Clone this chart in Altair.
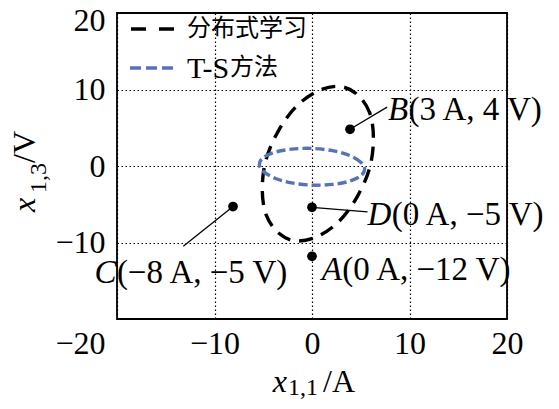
import altair as alt
import pandas as pd

# ---- data ----
# distributed-learning ellipse (black dashed) outline points
dl_x = [6.3, 5.9, 4.6, 2.8, 0.6, -1.6, -3.4, -4.7, -5.1, -4.7, -3.4, -1.6, 0.6, 2.8, 4.6, 5.9]
dl_y = [3.6, 7.0, 9.4, 10.4, 9.8, 7.8, 4.7, 0.9, -3.0, -6.4, -8.8, -9.8, -9.2, -7.2, -4.1, -0.3]
# T-S method ellipse (blue dash-dot) outline points
ts_x = [5.4, 5.0, 3.8, 2.1, 0.0, -2.1, -3.8, -5.0, -5.4, -5.0, -3.8, -2.1, 0.0, 2.1, 3.8, 5.0]
ts_y = [-0.4, 0.5, 1.4, 2.0, 2.3, 2.2, 1.8, 1.1, 0.2, -0.7, -1.6, -2.2, -2.5, -2.4, -2.0, -1.3]

pt_names = ["A", "B", "C", "D"]
pt_x = [0.0, 3.9, -8.1, 0.0]
pt_y = [-11.8, 4.8, -5.3, -5.4]
pt_text = ["(0 A, \u221212 V)", "(3 A, 4 V)", "(\u22128 A, \u22125 V)", "(0 A, \u22125 V)"]
lab_x = [1.0, 7.8, -22.3, 5.7]
lab_y = [-14.9, 6.0, -15.3, -7.7]
letter_w = [20.5, 20.5, 22.3, 24.1]  # italic letter advance (px)

lead_names = ["B", "C", "D"]
lead_x2 = [7.7, -13.2, 5.7]
lead_y2 = [7.7, -10.5, -6.0]

x_ticks = [-20, -10, 0, 10, 20]
y_ticks = [-10, 0, 10, 20]

W, H = 390, 306
PX = W / 40.0
SERIF = "Liberation Serif"
CJK = "Noto Sans CJK SC"
FS = 33

dl = pd.DataFrame({"x": dl_x, "y": dl_y, "i": range(len(dl_x))})
ts = pd.DataFrame({"x": ts_x, "y": ts_y, "i": range(len(ts_x))})
pts = pd.DataFrame({"name": pt_names, "x": pt_x, "y": pt_y, "rest": pt_text,
                    "lx": lab_x, "ly": lab_y})
pts["rx"] = [lx + w / PX for lx, w in zip(lab_x, letter_w)]
lead = pd.DataFrame({"name": lead_names, "x2": lead_x2, "y2": lead_y2})
lead = lead.merge(pts[["name", "x", "y"]], on="name")

xs = alt.Scale(domain=[-20, 20], nice=False, zero=False)
ys = alt.Scale(domain=[-20, 20], nice=False, zero=False)

xaxis = alt.Axis(values=x_ticks, title=None, grid=True, ticks=False, domain=False,
                 labelFont=SERIF, labelFontSize=32, labelColor="black", labelPadding=9,
                 labelAlign={"condition": {"test": "datum.value === -20", "value": "right"}, "value": "center"},
                 labelOffset={"condition": {"test": "datum.value === -20", "value": -12}, "value": 0},
                 gridColor="black", gridDash=[1.5, 2.5], gridWidth=1.2, gridOpacity=1)
yaxis = alt.Axis(values=y_ticks, title=None, grid=True, ticks=False, domain=False,
                 labelFont=SERIF, labelFontSize=32, labelColor="black", labelPadding=12,
                 labelOffset={"condition": {"test": "datum.value === 20", "value": 7}, "value": 0},
                 gridColor="black", gridDash=[1.5, 2.5], gridWidth=1.2, gridOpacity=1)

base = alt.Chart(pts).mark_point(opacity=0).encode(
    x=alt.X("x:Q", scale=xs, axis=xaxis),
    y=alt.Y("y:Q", scale=ys, axis=yaxis),
)

one = pd.DataFrame({"a": [0]})
frame = alt.Chart(one).mark_rect(filled=False, stroke="black", strokeWidth=1.8).encode(
    x=alt.value(0), x2=alt.value(W), y=alt.value(0), y2=alt.value(H))

dl_line = alt.Chart(dl).mark_line(interpolate="cardinal-closed", color="black",
                                  strokeWidth=3.4, strokeDash=[14, 9]).encode(
    x=alt.X("x:Q", scale=xs), y=alt.Y("y:Q", scale=ys), order="i:Q")
ts_line = alt.Chart(ts).mark_line(interpolate="cardinal-closed", color="#5673b5",
                                  strokeWidth=3.4, strokeDash=[9, 4]).encode(
    x=alt.X("x:Q", scale=xs), y=alt.Y("y:Q", scale=ys), order="i:Q")

leads = alt.Chart(lead).mark_rule(color="black", strokeWidth=1.3).encode(
    x=alt.X("x:Q", scale=xs), y=alt.Y("y:Q", scale=ys), x2="x2:Q", y2="y2:Q")
dots = alt.Chart(pts).mark_circle(color="black", size=95, opacity=1).encode(
    x=alt.X("x:Q", scale=xs), y=alt.Y("y:Q", scale=ys))
letters = alt.Chart(pts).mark_text(font=SERIF, fontSize=FS, fontStyle="italic", align="left",
                                   baseline="alphabetic", color="black").encode(
    x=alt.X("lx:Q", scale=xs), y=alt.Y("ly:Q", scale=ys), text="name:N")
rests = alt.Chart(pts).mark_text(font=SERIF, fontSize=FS, align="left",
                                 baseline="alphabetic", color="black").encode(
    x=alt.X("rx:Q", scale=xs), y=alt.Y("ly:Q", scale=ys), text="rest:N")

# legend
leg_b = alt.Chart(one).mark_rule(color="black", strokeWidth=3.5, strokeDash=[15, 13]).encode(
    x=alt.value(14), x2=alt.value(58), y=alt.value(16))
leg_t = alt.Chart(one).mark_rule(color="#5673b5", strokeWidth=3.5, strokeDash=[11, 5]).encode(
    x=alt.value(13), x2=alt.value(58), y=alt.value(55))
leg_txt1 = alt.Chart(one).mark_text(text="分布式学习", font=CJK, fontSize=24, align="left",
                                    baseline="middle", color="black").encode(
    x=alt.value(70), y=alt.value(16))
leg_txt2a = alt.Chart(one).mark_text(text="T-S", font=SERIF, fontSize=30, align="left",
                                     baseline="middle", color="black").encode(
    x=alt.value(70), y=alt.value(56))
leg_txt2b = alt.Chart(one).mark_text(text="方法", font=CJK, fontSize=24, align="left",
                                     baseline="middle", color="black").encode(
    x=alt.value(113), y=alt.value(55))

# axis titles (italic x with subscript)
def txt(t, x, y, size=32, style="normal", angle=0, font=SERIF, align="left"):
    return alt.Chart(one).mark_text(text=t, font=font, fontSize=size, fontStyle=style,
                                    angle=angle, align=align, baseline="alphabetic",
                                    color="black").encode(x=alt.value(x), y=alt.value(y))

xt = [txt("x", 170, 379, style="italic", align="right"),
      txt("1,1", 171, 382, size=24),
      txt("/A", 206, 379)]
yt = [txt("x", -82, 199, style="italic", angle=270),
      txt("1,3", -71, 180, size=24, angle=270),
      txt("/V", -82, 150, angle=270)]

chart = alt.layer(base, dl_line, ts_line, leads, dots, letters, rests,
                  leg_b, leg_t, leg_txt1, leg_txt2a, leg_txt2b, *xt, *yt, frame).properties(
    width=W, height=H, autosize="none",
    padding={"left": 109, "top": 5, "right": 44, "bottom": 82},
).configure_view(stroke=None).configure(background="white")

chart.save("out.html", embed_options={"renderer": "svg", "actions": False})
